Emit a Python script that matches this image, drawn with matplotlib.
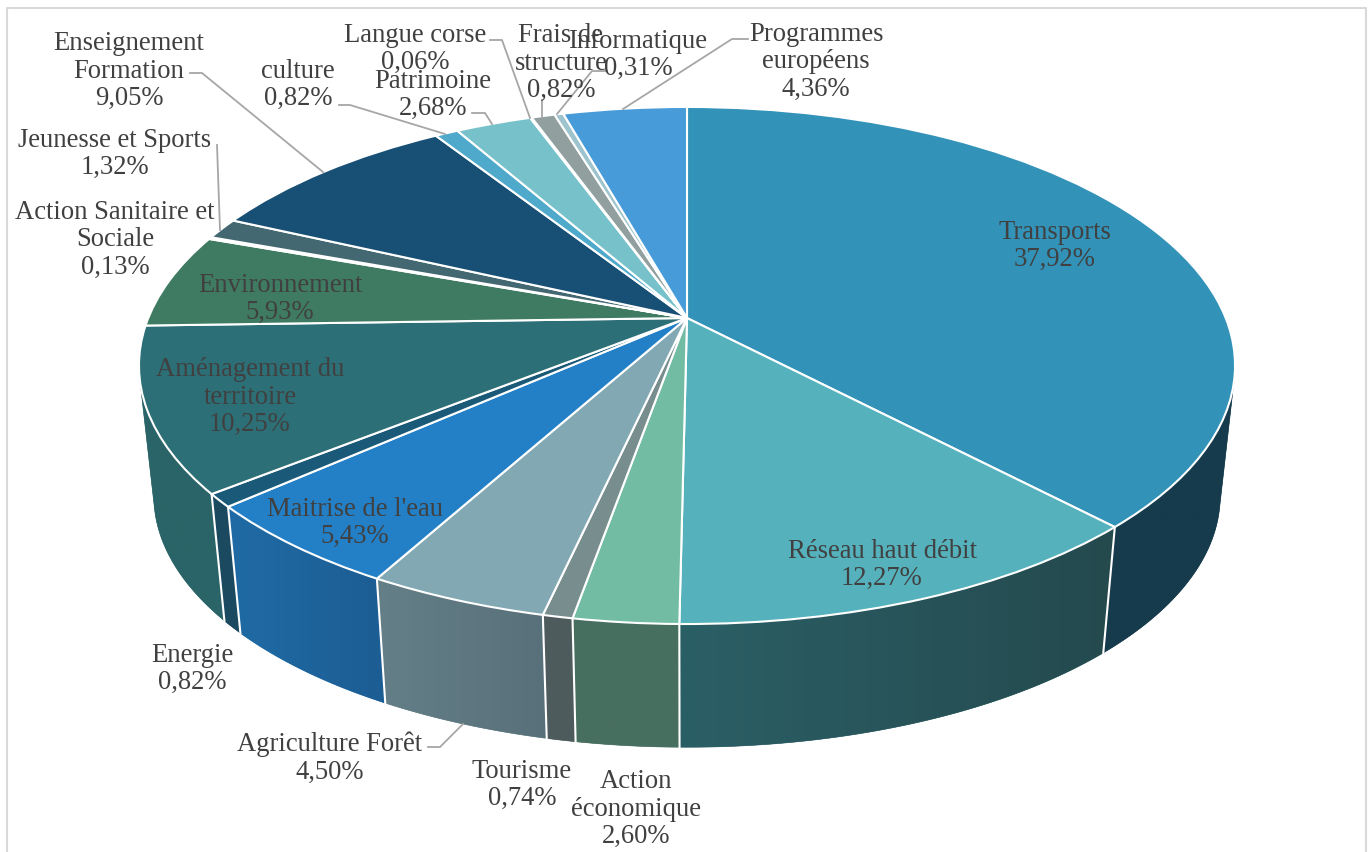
import numpy as np
import matplotlib
matplotlib.use("Agg")
import matplotlib.pyplot as plt
from matplotlib.patches import Polygon
from matplotlib.transforms import Transform
from matplotlib.colors import to_rgb

# --- data ---
names = ["Transports", "Réseau haut débit", "Action\néconomique", "Tourisme",
         "Agriculture Forêt", "Maitrise de l'eau", "Energie", "Aménagement du\nterritoire",
         "Environnement", "Action Sanitaire et\nSociale", "Jeunesse et Sports",
         "Enseignement\nFormation", "culture", "Patrimoine", "Langue corse",
         "Frais de\nstructure", "Informatique", "Programmes\neuropéens"]
values = [37.92, 12.27, 2.60, 0.74, 4.50, 5.43, 0.82, 10.25, 5.93, 0.13, 1.32,
          9.05, 0.82, 2.68, 0.06, 0.82, 0.31, 4.36]

# --- styles ---
top_colors = ["#3292b8", "#55b2bd", "#72bca4", "#788d8e", "#82a9b3", "#2480c6", "#1a5a78",
              "#2d6f76", "#3f7b63", "#8a9a9a", "#446872", "#184f75", "#4fa9cb", "#77c2ca",
              "#5f9ea8", "#919f9f", "#9dc3cc", "#479bd9"]
wall_colors = {0: ("#163b4c", "#163b4c"), 1: ("#244a4e", "#2b5f66"), 2: ("#476f60", "#476f60"),
               3: ("#4e5b5c", "#4e5b5c"), 4: ("#58707a", "#647f87"), 5: ("#1c5d93", "#206ba5"),
               6: ("#1b4a60", "#1b4a60"), 7: ("#2a6468", "#2a6468")}
label_xy = [(1055, 243), (882, 562), (636, 806), (522, 782), (330, 755), (355, 520), (192, 666),
            (250, 394), (280, 296), (115, 237), (115, 151), (129, 68), (298, 82), (433, 92),
            (415, 46), (561, 60), (638, 52), (816, 59)]
leaders = [[(190, 73), (202, 73), (323, 172)], [(339, 105), (350, 105), (445, 134)],
           [(217, 145), (220, 230)], [(490, 40), (502, 40), (530, 118)],
           [(472, 113), (485, 113), (492, 124)], [(542, 100), (542, 117)],
           [(607, 71), (592, 71), (557, 114)], [(748, 39), (732, 39), (623, 109)],
           [(428, 747), (440, 747), (463, 724)]]
CX, CY, A, B, K = 687.0, 318.0, 538.7, 249.8, 0.1837
DEPTH, SHRINK = 131.5, 0.973
VIS_START, VIS_END = 103.0, 257.0
TEXT = "#404040"
TEXT_DY = 3


def project(X, Y, scale=1.0, dy=0.0):
    d = 1 + K * Y
    return CX + scale * A * X / d, CY + dy - scale * B * Y / d


class Persp(Transform):
    input_dims = output_dims = 2
    is_separable = False
    has_inverse = False

    def transform_non_affine(self, xy):
        xy = np.asarray(xy, float)
        x, y = project(xy[:, 0], xy[:, 1])
        return np.column_stack([x, y])


fig = plt.figure(figsize=(13.71, 8.52), dpi=100, facecolor="white")
ax = fig.add_axes([0, 0, 1, 1])

wedges, _ = ax.pie(values, colors=top_colors, startangle=90, counterclock=False, radius=1,
                   wedgeprops=dict(edgecolor="white", linewidth=1.5, joinstyle="round"))
ax.set_aspect("auto")
ax.set_xlim(0, 1371)
ax.set_ylim(852, 0)
ax.axis("off")
ax.autoscale(False)
for w in wedges:
    w.set_transform(Persp() + ax.transData)
    w.set_clip_on(False)
    w.set_zorder(5)

# side walls, from the same cumulative angles; horizontal gradient clipped to each wall
v = np.array(values, float)
edges = np.concatenate([[0], np.cumsum(v) / v.sum() * 360])
for i, (c_right, c_left) in wall_colors.items():
    t0, t1 = max(edges[i], VIS_START), min(edges[i + 1], VIS_END)
    if i == 7:
        t1 = VIS_END
    ts = np.radians(np.linspace(t0, t1, 80))
    xt, yt = project(np.sin(ts), np.cos(ts))
    xb, yb = project(np.sin(ts), np.cos(ts), SHRINK, DEPTH)
    verts = np.vstack([np.column_stack([xt, yt]), np.column_stack([xb, yb])[::-1]])
    clip = Polygon(verts, closed=True, facecolor=c_left, edgecolor=c_left, lw=0.4, zorder=2)
    ax.add_patch(clip)
    grad = np.linspace(to_rgb(c_left), to_rgb(c_right), 64)[None, :, :]
    im = ax.imshow(grad, extent=(verts[:, 0].min(), verts[:, 0].max(), verts[:, 1].max(), verts[:, 1].min()),
                   aspect="auto", interpolation="bilinear", zorder=2.1)
    im.set_clip_path(clip)
    if i > 0:
        t = np.radians(edges[i])
        xa, ya = project(np.sin(t), np.cos(t))
        xc, yc = project(np.sin(t), np.cos(t), SHRINK, DEPTH)
        ax.plot([xa, xc], [ya, yc], color="white", lw=1.5, zorder=3)
ax.set_xlim(0, 1371)
ax.set_ylim(852, 0)

# labels
for name, val, (x, y) in zip(names, values, label_xy):
    txt = f"{name}\n{val:.2f}%".replace(".", ",")
    ax.text(x, y + TEXT_DY, txt, ha="center", va="center", fontsize=19.2, color=TEXT,
            linespacing=1.13, zorder=8, family=["Liberation Serif", "DejaVu Serif"])

for pts in leaders:
    xs, ys = zip(*pts)
    ax.plot(xs, ys, color="#a6a6a6", lw=1.3, zorder=6)

# chart frame
ax.plot([7, 7, 1366, 1366], [852, 8, 8, 852], color="#d9d9d9", lw=1.5, zorder=1)

fig.savefig("out.png", dpi=100, facecolor="white")
